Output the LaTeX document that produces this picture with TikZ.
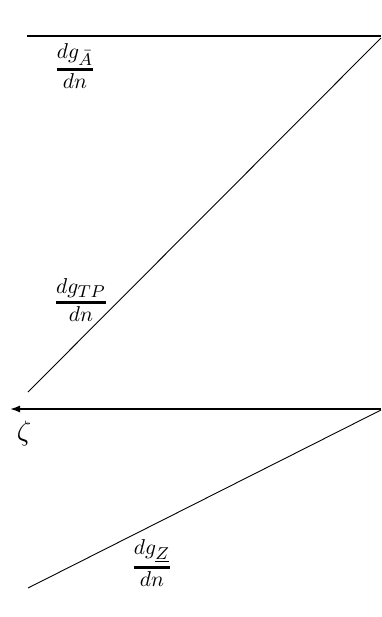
\documentclass[tikz,border=0pt]{standalone}
\usepackage{amsmath}
\usetikzlibrary{arrows.meta}
\newcommand{\subsz}[1]{\mbox{\fontsize{8}{8}\selectfont$#1$}}
\newcommand{\myfrac}[2]{\genfrac{}{}{1.3pt}{1}{\textstyle #1}{\textstyle #2}}
\begin{document}
\begin{tikzpicture}[x=1pt,y=-1pt,
  lbl/.style={inner sep=0pt, scale=2.15},
  heavy/.style={line width=1.6pt},
  light/.style={line width=0.9pt}]
\useasboundingbox (0,0) rectangle (381,617);
% coordinates
\coordinate (tl) at (27,36);
\coordinate (tr) at (381,36);
\coordinate (d1s) at (28,392);
\coordinate (d1e) at (381,38);
\coordinate (mr) at (381,409);
\coordinate (ml) at (10,409);
\coordinate (d2s) at (381,410);
\coordinate (d2e) at (28,588);
% lines
\draw[heavy] (tl) -- (tr);
\draw[light] (d1s) -- (d1e);
\draw[heavy,-{Latex[length=10pt,width=7pt]}] (mr) -- (ml);
\draw[light] (d2s) -- (d2e);
% labels
\node[lbl] (la) at (75,66) {$\myfrac{dg_{\subsz{\bar{A}}}}{dn}$};
\node[lbl] (ltp) at (81,300) {$\myfrac{dg_{\subsz{TP}}}{dn}$};
\node[inner sep=0pt, scale=2.8] (lz) at (24,433) {$\zeta$};
\node[lbl] (lzz) at (152,563) {$\myfrac{dg_{\subsz{\underline{Z}}}}{dn}$};
\end{tikzpicture}
\end{document}
